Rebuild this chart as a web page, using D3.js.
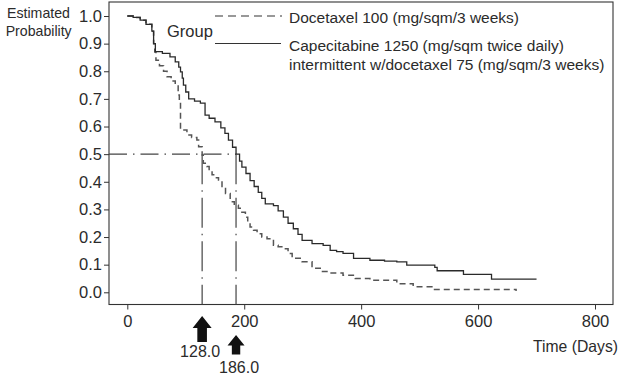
<!DOCTYPE html>
<html>
<head>
<meta charset="utf-8">
<script src="https://cdn.jsdelivr.net/npm/d3@7/dist/d3.min.js"></script>
<style>
  html, body { margin: 0; padding: 0; background: #fff; }
  svg { display: block; font-family: "Liberation Sans", Arial, sans-serif; }
</style>
</head>
<body>
<svg id="chart" width="624" height="381"></svg>
<script>
// ---- Data ----
const xTicks = [0, 200, 400, 600, 800];
const yTicks = [0.0, 0.1, 0.2, 0.3, 0.4, 0.5, 0.6, 0.7, 0.8, 0.9, 1.0];

const capeTimes = [0, 10, 22, 32, 42, 45, 48, 60, 73, 82, 88, 91, 94, 96, 100, 105, 115, 125, 133, 140, 150, 160, 167, 173, 180, 186, 192, 196, 203, 210, 217, 224, 230, 236, 250, 258, 267, 275, 284, 292, 299, 316, 335, 347, 358, 369, 387, 415, 440, 461, 478, 526, 530, 575, 623, 700];
const capeSurv  = [1.0, 0.995, 0.985, 0.97, 0.945, 0.90, 0.871, 0.865, 0.852, 0.834, 0.815, 0.798, 0.775, 0.75, 0.725, 0.70, 0.692, 0.685, 0.641, 0.63, 0.617, 0.595, 0.575, 0.551, 0.525, 0.50, 0.475, 0.453, 0.43, 0.404, 0.383, 0.362, 0.34, 0.32, 0.314, 0.295, 0.272, 0.25, 0.23, 0.21, 0.188, 0.176, 0.17, 0.152, 0.147, 0.141, 0.123, 0.116, 0.113, 0.11, 0.098, 0.09, 0.078, 0.065, 0.048, 0.048];

const doceTimes = [0, 10, 22, 32, 42, 45, 47, 49, 55, 62, 68, 75, 82, 87, 89, 91, 102, 110, 119, 122, 128, 130, 136, 140, 145, 150, 156, 162, 168, 176, 183, 190, 196, 202, 206, 210, 216, 222, 230, 239, 250, 258, 267, 275, 282, 299, 316, 330, 345, 369, 390, 415, 461, 489, 521, 665];
const doceSurv  = [1.0, 0.995, 0.985, 0.97, 0.945, 0.90, 0.87, 0.84, 0.82, 0.80, 0.78, 0.765, 0.75, 0.714, 0.696, 0.587, 0.569, 0.56, 0.551, 0.527, 0.497, 0.467, 0.455, 0.44, 0.425, 0.415, 0.406, 0.38, 0.358, 0.328, 0.315, 0.304, 0.29, 0.272, 0.255, 0.236, 0.225, 0.212, 0.20, 0.194, 0.17, 0.165, 0.158, 0.14, 0.123, 0.111, 0.087, 0.075, 0.07, 0.062, 0.05, 0.044, 0.031, 0.02, 0.01, 0.005];

const medianTimes = [128.0, 186.0];
const medianLabels = ["128.0", "186.0"];
const medianLevel = 0.5;

const legendLabels = ["Docetaxel 100 (mg/sqm/3 weeks)", "Capecitabine 1250 (mg/sqm twice daily)", "intermittent w/docetaxel 75 (mg/sqm/3 weeks)"];

// ---- Layout ----
const svg = d3.select("#chart");
const frame = { left: 109, right: 613, top: 2, bottom: 304.5 };
const x = d3.scaleLinear().domain([0, 800]).range([127.3, 595]);
const y = d3.scaleLinear().domain([0, 1]).range([292.3, 16]);
const textColor = "#2b2b2b";

// Frame
svg.append("rect")
  .attr("x", frame.left).attr("y", frame.top)
  .attr("width", frame.right - frame.left).attr("height", frame.bottom - frame.top)
  .attr("fill", "none").attr("stroke", "#333").attr("stroke-width", 1.1);

// Y axis
const yAxis = d3.axisLeft(y).tickValues(yTicks).tickFormat(d3.format(".1f")).tickSize(5).tickPadding(2);
const gy = svg.append("g").attr("transform", `translate(${frame.left},0)`).call(yAxis);
gy.select(".domain").remove();
gy.selectAll("line").attr("stroke", "#333");
gy.selectAll("text").attr("font-size", 16.5).attr("fill", textColor)
  .attr("font-family", "Liberation Sans, Arial, sans-serif");

// X axis
const xAxis = d3.axisBottom(x).tickValues(xTicks).tickFormat(d3.format("d")).tickSize(5).tickPadding(6);
const gx = svg.append("g").attr("transform", `translate(0,${frame.bottom})`).call(xAxis);
gx.select(".domain").remove();
gx.selectAll("line").attr("stroke", "#333");
gx.selectAll("text").attr("font-size", 16.5).attr("fill", textColor)
  .attr("font-family", "Liberation Sans, Arial, sans-serif");

// Axis titles
const yTitle = svg.append("g").attr("fill", textColor).attr("font-size", 15).attr("text-anchor", "middle");
yTitle.append("text").attr("x", 38.5).attr("y", 18).attr("textLength", 63).attr("lengthAdjust", "spacingAndGlyphs").text("Estimated");
yTitle.append("text").attr("x", 38.7).attr("y", 35.5).attr("textLength", 66).attr("lengthAdjust", "spacingAndGlyphs").text("Probability");

svg.append("text").attr("x", 618).attr("y", 351.5).attr("text-anchor", "end")
  .attr("font-size", 16.5).attr("fill", textColor).attr("textLength", 85).attr("lengthAdjust", "spacingAndGlyphs").text("Time (Days)");

// Median reference lines
svg.append("line")
  .attr("x1", frame.left).attr("x2", x(medianTimes[1]))
  .attr("y1", y(medianLevel)).attr("y2", y(medianLevel))
  .attr("stroke", "#444").attr("stroke-width", 1.2).attr("stroke-dasharray", "18,6,1.5,6");
svg.selectAll("line.med").data(medianTimes).enter().append("line").attr("class", "med")
  .attr("x1", d => x(d)).attr("x2", d => x(d))
  .attr("y1", y(medianLevel)).attr("y2", frame.bottom)
  .attr("stroke", "#444").attr("stroke-width", 1.2).attr("stroke-dasharray", "30,6,1.5,6");

// Curves
const line = d3.line().x(d => x(d[0])).y(d => y(d[1])).curve(d3.curveStepAfter);
const capeData = capeTimes.map((t, i) => [t, capeSurv[i]]);
const doceData = doceTimes.map((t, i) => [t, doceSurv[i]]);

svg.append("path").attr("d", line(doceData))
  .attr("fill", "none").attr("stroke", "#555").attr("stroke-width", 1.5).attr("stroke-dasharray", "6,4");
svg.append("path").attr("d", line(capeData))
  .attr("fill", "none").attr("stroke", "#2a2a2a").attr("stroke-width", 1.3);

// Legend
const lg = svg.append("g").attr("fill", textColor);
lg.append("text").attr("x", 167).attr("y", 36.5).attr("font-size", 16.5).text("Group");
lg.append("line").attr("x1", 215).attr("x2", 282).attr("y1", 16).attr("y2", 16)
  .attr("stroke", "#333").attr("stroke-width", 1.2).attr("stroke-dasharray", "8,5");
lg.append("line").attr("x1", 215).attr("x2", 281).attr("y1", 43.5).attr("y2", 43.5)
  .attr("stroke", "#333").attr("stroke-width", 1.2);
const legendY = [22.5, 50.5, 70];
lg.selectAll("text.lbl").data(legendLabels).enter().append("text").attr("class", "lbl")
  .attr("x", 289).attr("y", (d, i) => legendY[i]).attr("font-size", 15.5).text(d => d);

// Median arrows
const arrowSpecs = [
  { tip: 316, base: 328, bottom: 342, hw: 9.5, sw: 4.8, labelY: 356.5 },
  { tip: 335, base: 345.5, bottom: 354.5, hw: 8.5, sw: 4.2, labelY: 373 }
];
medianTimes.forEach((t, i) => {
  const cx = x(t), s = arrowSpecs[i];
  const p = d3.path();
  p.moveTo(cx, s.tip);
  p.lineTo(cx + s.hw, s.base);
  p.lineTo(cx + s.sw, s.base);
  p.lineTo(cx + s.sw, s.bottom);
  p.lineTo(cx - s.sw, s.bottom);
  p.lineTo(cx - s.sw, s.base);
  p.lineTo(cx - s.hw, s.base);
  p.closePath();
  svg.append("path").attr("d", p.toString()).attr("fill", "#111");
  svg.append("text").attr("x", cx + (i === 0 ? -2 : 3)).attr("y", s.labelY)
    .attr("text-anchor", "middle").attr("font-size", 16).attr("fill", textColor)
    .text(medianLabels[i]);
});
</script>
</body>
</html>
